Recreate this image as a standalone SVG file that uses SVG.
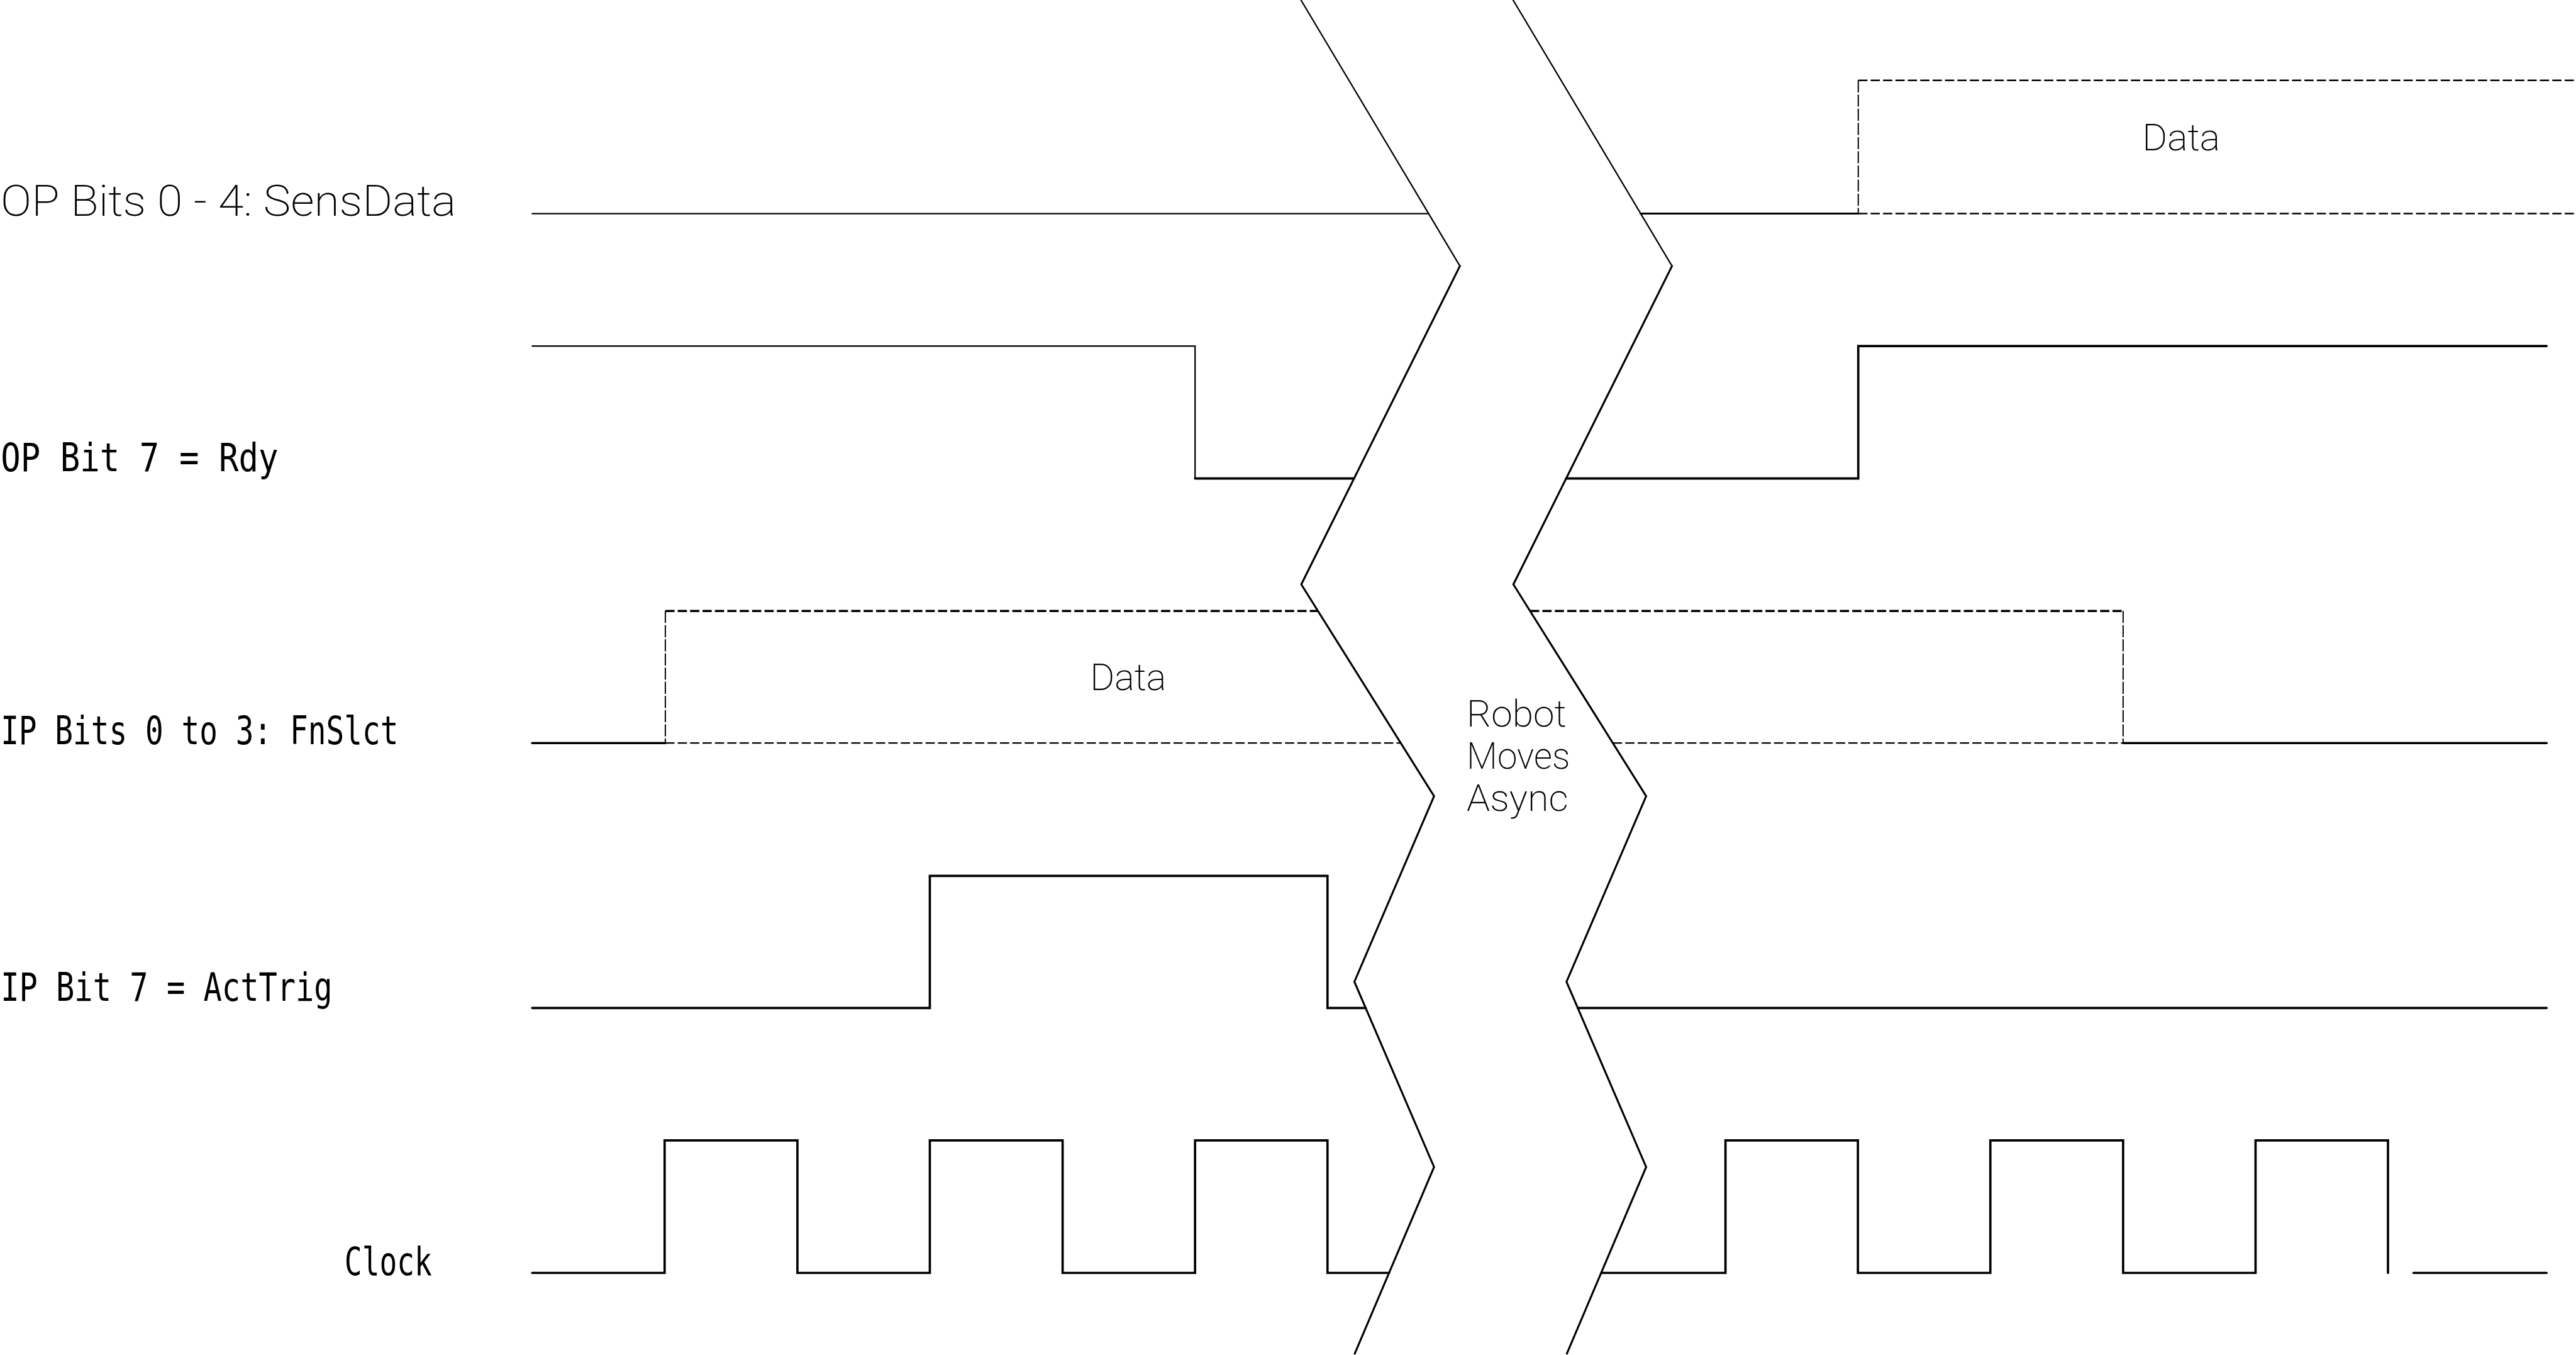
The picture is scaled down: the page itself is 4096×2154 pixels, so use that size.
<svg xmlns="http://www.w3.org/2000/svg" width="4096" height="2154" viewBox="0 0 4096 2154">
<style>
.w{fill:none;stroke:#000;stroke-linecap:round;stroke-linejoin:miter}
.t4{stroke-width:4}
.t6{stroke-width:6.5}
.dh{stroke-dasharray:26 9;stroke-linecap:butt}
.dv{stroke-dasharray:34 6;stroke-linecap:butt;stroke-width:3.5}
.lab{font-family:"DejaVu Sans Mono","Liberation Mono",monospace;font-size:111px;fill:#000}
.thin{font-family:Roboto,Lato,"DejaVu Sans",sans-serif;font-weight:200;fill:#000}
</style>
<rect width="4096" height="2154" fill="#fff"/>
<g transform="scale(0.563024)">
<g id="sig-sensdata">
<text class="thin" x="2" y="610" font-size="121" textLength="1286" lengthAdjust="spacingAndGlyphs">OP Bits 0 - 4: SensData</text>
<path class="w t4" d="M1503,603 H4034"/>
<path class="w" stroke-width="5.5" d="M4633,603 H5248"/>
<path class="w dh" stroke-width="4.5" d="M5248,603 H7275 M5248,227 H7275"/>
<path class="w dv" d="M5248,227 V603"/>
<text class="thin" x="6160" y="425" font-size="105" text-anchor="middle" textLength="220" lengthAdjust="spacingAndGlyphs">Data</text>
</g>
<g id="sig-rdy">
<text class="lab" x="2" y="1331" textLength="784" lengthAdjust="spacingAndGlyphs">OP Bit 7 = Rdy</text>
<path class="w t4" d="M1503,977 H3375 V1351"/>
<path class="w t6" d="M3375,1351 H3824"/>
<path class="w t6" d="M4423,1351 H5248 V977 H7192"/>
</g>
<g id="sig-fnslct">
<text class="lab" x="2" y="2102" textLength="1123" lengthAdjust="spacingAndGlyphs">IP Bits 0 to 3: FnSlct</text>
<path class="w t6" d="M1503,2098 H1879"/>
<path class="w dv" d="M1879,1725 V2098 M5996,1725 V2098"/>
<path class="w dh" stroke-width="6" d="M1879,1725 H3722 M4321,1725 H5996"/>
<path class="w dh" stroke-width="4" d="M1879,2098 H3956 M4555,2098 H5996"/>
<path class="w t6" d="M5996,2098 H7192"/>
<text class="thin" x="3186" y="1949" font-size="105" text-anchor="middle" textLength="215" lengthAdjust="spacingAndGlyphs">Data</text>
</g>
<g id="sig-acttrig">
<text class="lab" x="2" y="2826" textLength="937" lengthAdjust="spacingAndGlyphs">IP Bit 7 = ActTrig</text>
<path class="w t6" d="M1503,2846 H2626 V2473 H3749 V2846 H3857"/>
<path class="w t6" d="M4456,2846 H7192"/>
</g>
<g id="sig-clock">
<text class="lab" x="973" y="3600" textLength="247" lengthAdjust="spacingAndGlyphs">Clock</text>
<path class="w t6" d="M1503,3594 H1877 V3220 H2252 V3594 H2626 V3220 H3001 V3594 H3375 V3220 H3749 V3594 H3923"/>
<path class="w t6" d="M4522,3594 H4873 V3220 H5247 V3594 H5621 V3220 H5996 V3594 H6370 V3220 H6744 V3594"/>
<path class="w t6" d="M6816,3594 H7192"/>
</g>
<g id="connectors">
<path class="w t4" d="M3674,0 L4123,751"/>
<path class="w" stroke-width="5.5" d="M4123,751 L3675,1650 L4050,2248 L3825,2772 L4050,3295 L3826,3822"/>
<path class="w t4" d="M4273,0 L4722,751"/>
<path class="w" stroke-width="5.5" d="M4722,751 L4274,1650 L4649,2248 L4424,2772 L4649,3295 L4425,3822"/>
</g>
<g id="break-label">
<text class="thin" x="4142" y="2051" font-size="105" textLength="282" lengthAdjust="spacingAndGlyphs">Robot</text>
<text class="thin" x="4142" y="2171" font-size="105" textLength="292" lengthAdjust="spacingAndGlyphs">Moves</text>
<text class="thin" x="4142" y="2290" font-size="105" textLength="287" lengthAdjust="spacingAndGlyphs">Async</text>
</g>
</g>
</svg>
